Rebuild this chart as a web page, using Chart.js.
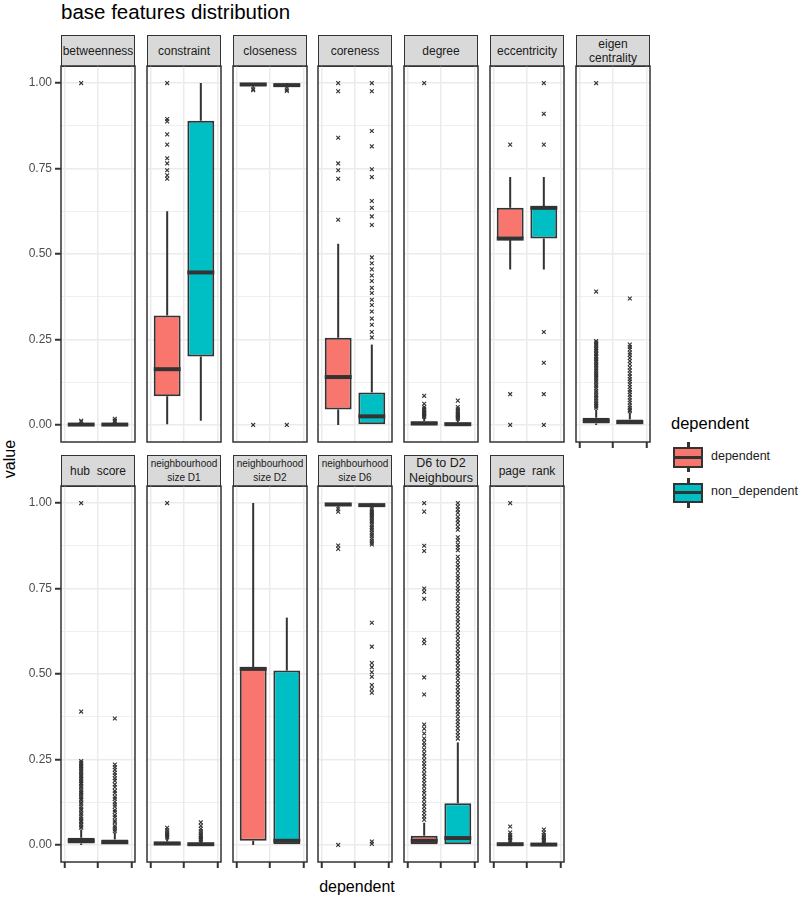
<!DOCTYPE html>
<html><head><meta charset="utf-8">
<script src="https://cdn.jsdelivr.net/npm/chart.js@4.4.1/dist/chart.umd.min.js"></script>
<style>
html,body{margin:0;padding:0;background:#fff;}
body{width:800px;height:904px;position:relative;overflow:hidden;font-family:"Liberation Sans",Arial,sans-serif;}
.strip{position:absolute;box-sizing:border-box;background:#D9D9D9;border:1.5px solid #333;display:flex;align-items:center;justify-content:center;text-align:center;color:#1A1A1A;font-size:12px;line-height:14.5px;white-space:pre;overflow:hidden;}
canvas{position:absolute;}
.txt{position:absolute;white-space:pre;color:#000;}
.k{position:absolute;box-sizing:border-box;}
</style></head><body>
<div class="txt" style="left:61px;top:0px;font-size:20.5px;line-height:24px;">base features distribution</div>
<div class="txt" style="left:-20px;top:449px;width:60px;text-align:center;font-size:16px;line-height:20px;transform:rotate(-90deg);">value</div>
<div class="txt" style="left:297px;top:877px;width:120px;text-align:center;font-size:16px;line-height:20px;">dependent</div>
<div id="legend"></div>
<script>
// ---- data ----
const panelNames = ['betweenness','constraint','closeness','coreness','degree','eccentricity','eigen\ncentrality',
  'hub  score','neighbourhood\nsize D1','neighbourhood\nsize D2','neighbourhood\nsize D6','D6 to D2\nNeighbours','page  rank'];
const groupNames = ['dependent','non_dependent'];
const yTickValues = [0, 0.25, 0.5, 0.75, 1];
const yMinorValues = [0.125, 0.375, 0.625, 0.875];

const whiskerLow    = [[0,0],[0.002,0.012],[0.986,0.985],[0,0],[0,0],[0.455,0.455],[0,0],
                       [0,0],[0,0],[0,0],[0.986,0.985],[0,0],[0,0]];
const lowerQuartile = [[0,0],[0.084,0.2],[0.991,0.989],[0.045,0],[0,0],[0.545,0.545],[0.004,0],
                       [0.004,0],[0,0],[0.012,0],[0.991,0.989],[0,0],[0,0]];
const medianValue   = [[0.001,0.001],[0.163,0.446],[0.996,0.994],[0.14,0.025],[0.004,0.002],[0.545,0.635],[0.012,0.008],
                       [0.012,0.008],[0.004,0.002],[0.515,0.012],[0.996,0.994],[0.012,0.02],[0.002,0.001]];
const upperQuartile = [[0.003,0.003],[0.32,0.89],[1,0.998],[0.255,0.095],[0.011,0.007],[0.635,0.64],[0.021,0.016],
                       [0.021,0.016],[0.01,0.005],[0.52,0.51],[1,0.998],[0.027,0.122],[0.005,0.004]];
const whiskerHigh   = [[0.007,0.008],[0.625,1],[1,1],[0.53,0.235],[0.022,0.015],[0.725,0.725],[0.045,0.036],
                       [0.045,0.036],[0.02,0.012],[1,0.665],[1,1],[0.065,0.3],[0.011,0.009]];

const outliersDependent = [
  [1.0,0.012,0.01],
  [1.0,0.895,0.888,0.85,0.82,0.78,0.765,0.745,0.73,0.72],
  [0.982,0.979,0.0],
  [1.0,0.976,0.84,0.765,0.745,0.72,0.6],
  [1.0,0.085,0.062,0.052,0.047,0.043,0.039,0.035,0.032,0.029,0.026,0.024],
  [0.82,0.09,0.0],
  [1.0,0.39,0.245,0.241,0.236,0.232,0.226,0.221,0.217,0.211,0.207,0.202,0.198,0.192,0.188,0.183,0.177,0.173,0.167,0.162,0.157,0.151,0.146,0.141,0.136,0.13,0.125,0.118,0.113,0.107,0.1,0.095,0.088,0.083,0.077,0.071,0.065,0.06,0.055,0.05],
  [1.0,0.39,0.245,0.24,0.235,0.231,0.227,0.222,0.216,0.212,0.206,0.202,0.197,0.193,0.187,0.182,0.178,0.172,0.168,0.161,0.156,0.152,0.147,0.14,0.135,0.131,0.124,0.119,0.112,0.106,0.101,0.094,0.089,0.082,0.076,0.07,0.066,0.06,0.054,0.05],
  [1.0,0.05,0.043,0.037,0.032,0.028,0.025,0.022],
  [],
  [0.982,0.975,0.876,0.866,0.0],
  [1.0,0.975,0.875,0.86,0.75,0.74,0.72,0.6,0.59,0.49,0.44,0.352,0.34,0.326,0.311,0.3,0.291,0.279,0.268,0.259,0.248,0.238,0.229,0.219,0.208,0.199,0.19,0.18,0.171,0.16,0.152,0.141,0.132,0.121,0.112,0.102,0.093,0.083,0.074],
  [1.0,0.054,0.036,0.029,0.024,0.02,0.016,0.013]
];
const outliersNonDependent = [
  [0.018,0.013,0.011],
  [],
  [0.981,0.977,0.0],
  [1.0,0.976,0.86,0.815,0.748,0.725,0.655,0.635,0.61,0.585,0.49,0.473,0.455,0.437,0.421,0.401,0.386,0.366,0.351,0.332,0.311,0.293,0.272,0.256],
  [0.071,0.052,0.046,0.041,0.037,0.033,0.029,0.026,0.023,0.02,0.018],
  [1.0,0.91,0.82,0.272,0.182,0.09,0.0],
  [0.37,0.235,0.228,0.221,0.212,0.205,0.196,0.187,0.178,0.168,0.159,0.15,0.142,0.134,0.127,0.119,0.111,0.103,0.096,0.088,0.08,0.072,0.065,0.057,0.05,0.044,0.04],
  [0.37,0.235,0.227,0.22,0.211,0.204,0.195,0.188,0.177,0.169,0.158,0.151,0.141,0.135,0.126,0.118,0.112,0.102,0.097,0.087,0.081,0.071,0.066,0.056,0.051,0.045,0.04],
  [0.066,0.056,0.047,0.04,0.034,0.029,0.025,0.021,0.017,0.014],
  [],
  [0.982,0.978,0.974,0.97,0.966,0.961,0.957,0.952,0.947,0.943,0.937,0.931,0.926,0.921,0.914,0.908,0.903,0.896,0.89,0.884,0.879,0.65,0.58,0.532,0.52,0.505,0.492,0.468,0.456,0.445,0.01,0.003],
  [1.0,0.99,0.981,0.972,0.96,0.951,0.942,0.931,0.922,0.9,0.891,0.879,0.871,0.862,0.843,0.832,0.821,0.812,0.801,0.789,0.781,0.772,0.76,0.751,0.742,0.73,0.721,0.712,0.7,0.69,0.681,0.671,0.66,0.652,0.641,0.631,0.62,0.611,0.6,0.59,0.581,0.57,0.561,0.55,0.54,0.531,0.52,0.51,0.5,0.492,0.481,0.47,0.461,0.45,0.441,0.43,0.42,0.411,0.4,0.39,0.381,0.37,0.36,0.351,0.341,0.33,0.321,0.311],
  [0.045,0.036,0.029,0.023,0.018,0.014,0.011]
];

// ---- layout / style ----
const FILLS = ['#F8766D', '#00BFC4'];
const DARK = '#333333';
const LEFT0 = 61, PITCH = 85.83, PW = 74, PH = 376;
const STRIP_TOP = [35, 455], STRIP_H = 32, PLOT_TOP = [66, 486];

const boxPlugin = {
  id: 'boxExtras',
  beforeDatasetsDraw(chart, args, opts) {
    const p = opts.panel, ctx = chart.ctx, x = chart.scales.x, y = chart.scales.y;
    ctx.save();
    ctx.strokeStyle = DARK; ctx.lineWidth = 2; ctx.lineCap = 'butt';
    for (let g = 0; g < 2; g++) {
      const px = x.getPixelForValue(g + 1);
      ctx.beginPath();
      ctx.moveTo(px, y.getPixelForValue(whiskerHigh[p][g]));
      ctx.lineTo(px, y.getPixelForValue(upperQuartile[p][g]));
      ctx.moveTo(px, y.getPixelForValue(lowerQuartile[p][g]));
      ctx.lineTo(px, y.getPixelForValue(whiskerLow[p][g]));
      ctx.stroke();
    }
    ctx.restore();
  },
  afterDatasetsDraw(chart, args, opts) {
    const p = opts.panel, ctx = chart.ctx, y = chart.scales.y;
    const meta = chart.getDatasetMeta(0);
    ctx.save();
    ctx.strokeStyle = DARK; ctx.lineWidth = 4; ctx.lineCap = 'butt';
    meta.data.forEach((bar, g) => {
      const {x, width} = bar.getProps(['x', 'width'], true);
      const py = y.getPixelForValue(medianValue[p][g]);
      ctx.beginPath();
      ctx.moveTo(x - width / 2, py); ctx.lineTo(x + width / 2, py);
      ctx.stroke();
    });
    ctx.restore();
  },
  afterDraw(chart) {
    const a = chart.chartArea, ctx = chart.ctx;
    ctx.save();
    ctx.strokeStyle = DARK; ctx.lineWidth = 1.5;
    ctx.strokeRect(a.left, a.top, a.right - a.left, a.bottom - a.top);
    ctx.restore();
  }
};

const isMajor = v => yTickValues.some(t => Math.abs(t - v) < 1e-9);

panelNames.forEach((name, i) => {
  const row = i < 7 ? 0 : 1, col = row ? i - 7 : i;
  const L = Math.round(LEFT0 + col * PITCH);
  const showY = col === 0;
  const showX = row === 1 || col === 6;

  const strip = document.createElement('div');
  strip.className = 'strip';
  strip.style.left = L + 'px'; strip.style.top = STRIP_TOP[row] + 'px';
  strip.style.width = PW + 'px'; strip.style.height = STRIP_H + 'px';
  if (name.startsWith('neighbourhood')) strip.style.fontSize = '10px';
  if (name.startsWith('D6')) { strip.style.fontSize = '12.5px'; strip.style.lineHeight = '15.5px'; }
  strip.textContent = name;
  document.body.appendChild(strip);

  const cv = document.createElement('canvas');
  const cLeft = showY ? 0 : L - 2;
  const cw = showY ? L + PW + 2 : PW + 4;
  const ch = PH + 2 + (showX ? 8 : 2);
  cv.width = cw; cv.height = ch;
  cv.style.left = cLeft + 'px'; cv.style.top = (PLOT_TOP[row] - 2) + 'px';
  cv.style.width = cw + 'px'; cv.style.height = ch + 'px';
  document.body.appendChild(cv);

  const boxData = [0, 1].map(g => ({x: g + 1, y: [lowerQuartile[i][g], upperQuartile[i][g]]}));
  const outData = outliersDependent[i].map(v => ({x: 1, y: v}))
    .concat(outliersNonDependent[i].map(v => ({x: 2, y: v})));

  new Chart(cv, {
    type: 'bar',
    data: {
      datasets: [
        {type: 'bar', label: 'box', data: boxData, backgroundColor: FILLS, borderColor: DARK,
         borderWidth: 2, borderSkipped: false, barPercentage: 0.8, categoryPercentage: 1, order: 0},
        {type: 'scatter', label: 'outliers', data: outData, pointStyle: 'crossRot', radius: 2.7,
         borderColor: DARK, backgroundColor: DARK, borderWidth: 1.1, order: 1}
      ]
    },
    options: {
      responsive: false, maintainAspectRatio: false, animation: false, events: [],
      devicePixelRatio: 1,
      layout: {autoPadding: false, padding: {left: showY ? 0 : 2, right: 2, top: 2, bottom: showX ? 0 : 2}},
      plugins: {legend: {display: false}, tooltip: {enabled: false}, title: {display: false}, boxExtras: {panel: i}},
      scales: {
        x: {
          type: 'linear', min: 0.4, max: 2.6, offset: false,
          afterBuildTicks: s => { s.ticks = [{value: 1}, {value: 2}]; },
          afterFit: s => { s.height = showX ? 8 : 0; s.paddingLeft = 0; s.paddingRight = 0; s.paddingTop = 0; s.paddingBottom = 0; },
          ticks: {display: false},
          border: {display: false},
          grid: {color: '#EBEBEB', lineWidth: 1.5, drawTicks: showX, tickLength: 6, tickColor: DARK, tickWidth: 2}
        },
        y: {
          type: 'linear', min: -0.05, max: 1.05,
          afterBuildTicks: s => { s.ticks = yTickValues.concat(yMinorValues).sort((a, b) => a - b).map(v => ({value: v})); },
          afterFit: s => { s.width = showY ? L : 0; s.paddingTop = 0; s.paddingBottom = 0; s.paddingLeft = 0; s.paddingRight = 0; },
          ticks: {display: showY, padding: 3, color: '#4D4D4D', font: {family: 'Liberation Sans', size: 12},
                  callback: v => isMajor(v) ? v.toFixed(2) : ''},
          border: {display: false},
          grid: {
            color: '#EBEBEB',
            lineWidth: c => isMajor(c.tick.value) ? 1.5 : 0.8,
            drawTicks: showY, tickLength: 6, tickWidth: 2,
            tickColor: c => isMajor(c.tick.value) ? DARK : 'rgba(0,0,0,0)'
          }
        }
      }
    },
    plugins: [boxPlugin]
  });
});

// ---- legend ----
const lg = document.getElementById('legend');
const legendTitle = 'dependent';
let html = '<div class="txt" style="left:671px;top:413px;font-size:16.5px;line-height:20px;">' + legendTitle + '</div>';
groupNames.forEach((g, k) => {
  const top = 447 + k * 35.6;
  html += '<div class="k" style="left:687px;top:' + (top - 5) + 'px;width:2.5px;height:30px;background:' + DARK + '"></div>';
  html += '<div class="k" style="left:673px;top:' + top + 'px;width:30px;height:20.5px;border:2px solid ' + DARK + ';background:' + FILLS[k] + '"></div>';
  html += '<div class="k" style="left:673px;top:' + (top + 8.8) + 'px;width:30px;height:3px;background:' + DARK + '"></div>';
  html += '<div class="txt" style="left:711px;top:' + (top + 0.5) + 'px;font-size:12.5px;line-height:16px;color:#1A1A1A;">' + g + '</div>';
});
lg.innerHTML = html;
</script>
</body></html>
